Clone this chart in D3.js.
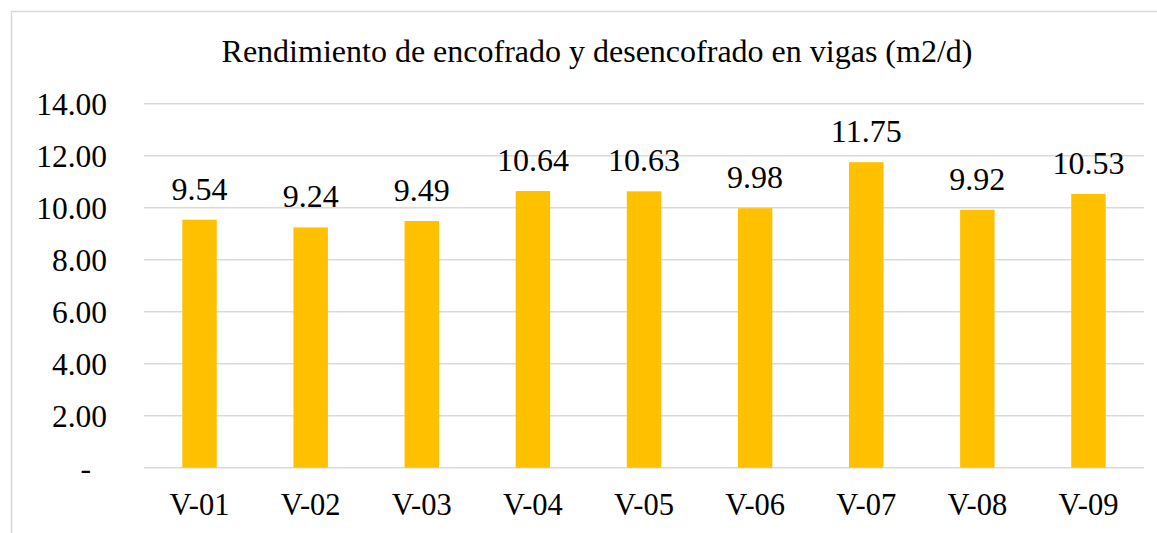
<!DOCTYPE html>
<html>
<head>
<meta charset="utf-8">
<script src="https://cdn.jsdelivr.net/npm/d3@7"></script>
<style>
  body { margin: 0; background: #fff; }
  text { font-family: "Liberation Serif", "Times New Roman", serif; fill: #000; }
</style>
</head>
<body>
<div id="container"></div>
<script>
const categories = ["V-01", "V-02", "V-03", "V-04", "V-05", "V-06", "V-07", "V-08", "V-09"];
const values = [9.54, 9.24, 9.49, 10.64, 10.63, 9.98, 11.75, 9.92, 10.53];
const yTicks = [0, 2, 4, 6, 8, 10, 12, 14];
const title = "Rendimiento de encofrado y desencofrado en vigas (m2/d)";

let width = 1157, height = 533;
let margin = { left: 144, right: 13, top: 103.7, bottom: 65.3 };

let svg = d3.select("#container").append("svg")
  .attr("width", width).attr("height", height);

// chart frame
svg.append("rect")
  .attr("x", 11.5).attr("y", 11.5)
  .attr("width", width + 20).attr("height", height + 20)
  .attr("fill", "none")
  .attr("stroke", "#d9d9d9")
  .attr("stroke-width", 1.5);

let x = d3.scaleBand()
  .domain(categories)
  .range([margin.left, width - margin.right])
  .paddingInner(0.69)
  .paddingOuter(0.345);

let y = d3.scaleLinear()
  .domain([0, 14])
  .range([height - margin.bottom, margin.top]);

// gridlines
svg.append("g")
  .selectAll("line")
  .data(yTicks)
  .enter()
  .append("line")
  .attr("x1", margin.left)
  .attr("x2", width - margin.right)
  .attr("y1", d => y(d))
  .attr("y2", d => y(d))
  .attr("stroke", "#d9d9d9")
  .attr("stroke-width", 1.5);

// y axis labels
let yAxis = d3.axisLeft(y)
  .tickValues(yTicks)
  .tickSize(0)
  .tickPadding(37)
  .tickFormat(d => d === 0 ? "-" : d3.format(".2f")(d));

let yg = svg.append("g")
  .attr("transform", `translate(${margin.left},0)`)
  .call(yAxis);
yg.select(".domain").remove();
yg.selectAll("text")
  .style("font-size", "31.5px")
  .attr("dy", "0.35em");
yg.selectAll(".tick").filter(d => d === 0).select("text").attr("dx", -16);

// x axis labels
let xAxis = d3.axisBottom(x).tickSize(0).tickPadding(26);
let xg = svg.append("g")
  .attr("transform", `translate(0,${y(0)})`)
  .call(xAxis);
xg.select(".domain").remove();
xg.selectAll("text")
  .style("font-size", "30.5px")
  .attr("dy", "0.71em");

// bars
svg.append("g")
  .selectAll("rect")
  .data(values)
  .enter()
  .append("rect")
  .attr("x", (d, i) => x(categories[i]))
  .attr("y", d => y(d))
  .attr("width", x.bandwidth())
  .attr("height", d => y(0) - y(d))
  .attr("fill", "#ffc000");

// data labels
svg.append("g")
  .selectAll("text")
  .data(values)
  .enter()
  .append("text")
  .attr("x", (d, i) => x(categories[i]) + x.bandwidth() / 2)
  .attr("y", d => y(d) - 20)
  .attr("text-anchor", "middle")
  .style("font-size", "32px")
  .text(d => d3.format(".2f")(d));

// title
svg.append("text")
  .attr("x", 597)
  .attr("y", 62)
  .attr("text-anchor", "middle")
  .style("font-size", "32px")
  .text(title);
</script>
</body>
</html>
